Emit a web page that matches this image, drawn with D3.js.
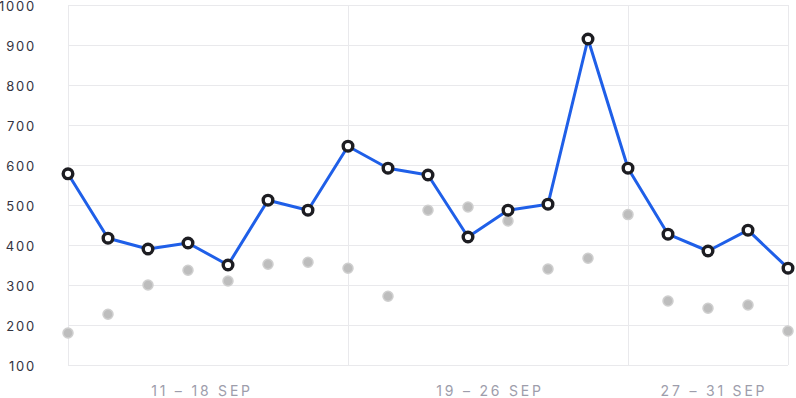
<!DOCTYPE html>
<html>
<head>
<meta charset="utf-8">
<script src="https://cdn.jsdelivr.net/npm/d3@7"></script>
<style>
  body { margin: 0; background: #fff; }
  svg text { font-family: Inter, "Noto Sans", sans-serif; }
</style>
</head>
<body>
<div id="chart"></div>
<script>
// values, one per day
var current = [578, 417, 390, 405, 350, 512, 487, 647, 592, 575, 420, 487, 502, 915, 592, 427, 385, 437, 342];
var previous = [180, 227, 300, 337, 310, 352, 357, 342, 272, 487, 495, 460, 340, 367, 476, 260, 242, 250, 185];

// y ticks
var yTicks = [100, 200, 300, 400, 500, 600, 700, 800, 900, 1000];

// week groups: label, where it sits (index units), separator lines
var weekLabels = ["11 \u2013 18 SEP", "19 \u2013 26 SEP", "27 \u2013 31 SEP"];
var weekLabelPos = [3.35, 10.55, 16.15];
var weekLines = [0, 7, 14, 18];

var svgWidth = 796;
var svgHeight = 398;
var cM = { top: 5, right: 8, bottom: 33, left: 68 };
var cW = svgWidth - cM.left - cM.right;
var cH = svgHeight - cM.top - cM.bottom;

var svg = d3.select("#chart").append("svg")
  .attr("width", svgWidth)
  .attr("height", svgHeight);

var chartGroup = svg.append("g")
  .attr("transform", `translate(${cM.left}, ${cM.top})`);

var xScale = d3.scaleLinear()
  .domain([0, current.length - 1])
  .range([0, cW]);

var yScale = d3.scaleLinear()
  .domain([100, 1000])
  .range([cH, 0]);

// horizontal grid
chartGroup.append("g")
  .selectAll("line")
  .data(yTicks)
  .enter()
  .append("line")
  .attr("x1", 0)
  .attr("x2", cW)
  .attr("y1", d => Math.round(yScale(d)) + 0.5)
  .attr("y2", d => Math.round(yScale(d)) + 0.5)
  .attr("stroke", "#e9e9ec")
  .attr("stroke-width", 1);

// vertical separators
chartGroup.append("g")
  .selectAll("line")
  .data(weekLines)
  .enter()
  .append("line")
  .attr("x1", d => Math.round(xScale(d)) + 0.5)
  .attr("x2", d => Math.round(xScale(d)) + 0.5)
  .attr("y1", 0)
  .attr("y2", cH)
  .attr("stroke", "#e9e9ec")
  .attr("stroke-width", 1);

// y axis labels
var leftAxis = d3.axisLeft(yScale)
  .tickValues(yTicks)
  .tickFormat(d3.format("d"))
  .tickSize(0)
  .tickPadding(32);

var yAxisG = chartGroup.append("g").call(leftAxis);
yAxisG.select(".domain").remove();
yAxisG.selectAll("text")
  .attr("fill", "#33333f")
  .attr("font-size", 13)
  .attr("dy", "0.4em")
  .attr("letter-spacing", "1.8px");

// week labels
chartGroup.append("g")
  .selectAll("text")
  .data(weekLabels)
  .enter()
  .append("text")
  .attr("x", (d, i) => xScale(weekLabelPos[i]))
  .attr("y", cH + 31)
  .attr("text-anchor", "middle")
  .attr("fill", "#9d9dab")
  .attr("font-size", 14)
  .attr("letter-spacing", "2.8px")
  .text(d => d);

// previous period dots
chartGroup.append("g")
  .selectAll("circle")
  .data(previous)
  .enter()
  .append("circle")
  .attr("cx", (d, i) => xScale(i))
  .attr("cy", d => yScale(d))
  .attr("r", 5)
  .attr("fill", "#bdbdbd")
  .attr("stroke", "#cfcfcf")
  .attr("stroke-width", 1.5);

// current line
var line = d3.line()
  .x((d, i) => xScale(i))
  .y(d => yScale(d));

chartGroup.append("path")
  .datum(current)
  .attr("d", line)
  .attr("fill", "none")
  .attr("stroke", "#1f5fe8")
  .attr("stroke-width", 3)
  .attr("stroke-linejoin", "round");

chartGroup.append("g")
  .selectAll("circle")
  .data(current)
  .enter()
  .append("circle")
  .attr("cx", (d, i) => xScale(i))
  .attr("cy", d => yScale(d))
  .attr("r", 4.8)
  .attr("fill", "#fff")
  .attr("stroke", "#1d1d22")
  .attr("stroke-width", 3.4);
</script>
</body>
</html>
